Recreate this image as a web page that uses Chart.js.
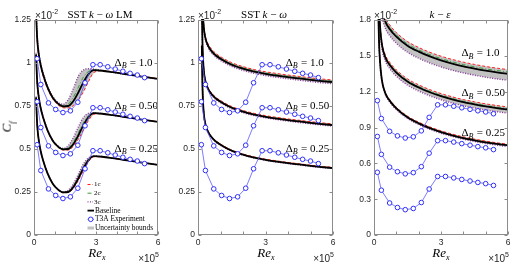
<!DOCTYPE html>
<html><head><meta charset="utf-8">
<script src="https://cdn.jsdelivr.net/npm/chart.js@4.4.1/dist/chart.umd.min.js"></script>
<style>
html,body{margin:0;padding:0;background:#fff}
body{width:526px;height:264px;overflow:hidden;position:relative;font-family:"Liberation Serif",serif}
canvas{position:absolute;top:0}
.t{position:absolute;white-space:nowrap;color:#000;line-height:1}
.c{transform:translate(-50%,-50%)}
.s{font-family:"Liberation Sans",Arial,sans-serif;font-size:10px;color:#262626;transform:translate(0,-50%)}
.r{transform:translate(-100%,-50%)}
sup.m{font-size:7px;position:relative;top:-1px;vertical-align:super}
</style></head><body>
<canvas id="c1" width="164" height="264" style="left:0"></canvas>
<canvas id="c2" width="176" height="264" style="left:164px"></canvas>
<canvas id="c3" width="186" height="264" style="left:340px"></canvas>

<div class="t c" style="left:100px;top:14px;font-size:11px">SST <i>k</i> − <i>ω</i> LM</div>
<div class="t c" style="left:264px;top:14px;font-size:11px">SST <i>k</i> − <i>ω</i></div>
<div class="t c" style="left:440px;top:14px;font-size:11px"><i>k</i> − <i>ε</i></div>

<div class="t s" style="left:35px;top:15px">×10<sup class="m">-2</sup></div>
<div class="t s" style="left:198px;top:15px">×10<sup class="m">-2</sup></div>
<div class="t s" style="left:374px;top:15px">×10<sup class="m">-2</sup></div>

<div class="t c" style="left:97px;top:254px;font-size:13px"><i>Re</i><sub style="font-size:8px"><i>x</i></sub></div>
<div class="t c" style="left:266px;top:254px;font-size:13px"><i>Re</i><sub style="font-size:8px"><i>x</i></sub></div>
<div class="t c" style="left:441px;top:254px;font-size:13px"><i>Re</i><sub style="font-size:8px"><i>x</i></sub></div>

<div class="t s r" style="left:159px;top:258px">×10<sup class="m">5</sup></div>
<div class="t s r" style="left:334px;top:258px">×10<sup class="m">5</sup></div>
<div class="t s r" style="left:509px;top:258px">×10<sup class="m">5</sup></div>

<div class="t c" style="left:8px;top:127px;font-size:13px;transform:translate(-50%,-50%) rotate(-90deg)"><i>C</i><sub style="font-size:8px"><i>f</i></sub></div>

<script>
// ---------- DATA (Re_x in 1e5, Cf in 1e-2) ----------
const expX  = [0.15, 0.33, 0.70, 1.05, 1.40, 1.76, 2.12, 2.47, 2.85, 3.20, 3.57, 3.93, 4.30, 4.65, 5.00, 5.35];
const expCf = [0.525, 0.375, 0.268, 0.230, 0.212, 0.222, 0.272, 0.385, 0.490, 0.490, 0.478, 0.465, 0.452, 0.440, 0.430, 0.415];

const deltaB   = ['0.25', '0.50', '1.0'];
const offsetsA = [0, 0.25, 0.5];   // vertical shift of each Delta_B group, panels 1-2
const offsetsB = [0, 0.3, 0.6];    // panel 3

// Panel 1: SST k-omega LM
const lmX    = [0.10, 0.15, 0.22, 0.32, 0.45, 0.65, 0.90, 1.15, 1.40, 1.65, 1.90, 2.15, 2.40, 2.65, 2.90, 3.30, 3.80, 4.40, 5.00, 5.50, 6.00];
const lmBase = [0.80, 0.65, 0.56, 0.49, 0.43, 0.36, 0.30, 0.265, 0.248, 0.25, 0.278, 0.33, 0.39, 0.437, 0.458, 0.455, 0.447, 0.436, 0.425, 0.416, 0.408];
const lm1c_025 = [0.795, 0.646, 0.556, 0.487, 0.428, 0.358, 0.299, 0.263, 0.246, 0.247, 0.27, 0.318, 0.376, 0.428, 0.455, 0.455, 0.447, 0.436, 0.425, 0.416, 0.408];
const lm2c_025 = [0.80, 0.65, 0.56, 0.49, 0.43, 0.36, 0.30, 0.265, 0.249, 0.253, 0.284, 0.338, 0.398, 0.441, 0.458, 0.455, 0.447, 0.436, 0.425, 0.416, 0.408];
const lm3c_025 = [0.805, 0.655, 0.564, 0.493, 0.432, 0.362, 0.302, 0.267, 0.251, 0.259, 0.296, 0.355, 0.415, 0.449, 0.46, 0.456, 0.447, 0.436, 0.425, 0.416, 0.408];
const lm1c_05 = [0.79, 0.642, 0.552, 0.484, 0.425, 0.356, 0.297, 0.261, 0.244, 0.244, 0.265, 0.308, 0.362, 0.418, 0.452, 0.455, 0.448, 0.437, 0.426, 0.417, 0.409];
const lm2c_05 = [0.80, 0.65, 0.56, 0.49, 0.43, 0.36, 0.30, 0.266, 0.25, 0.255, 0.29, 0.345, 0.405, 0.445, 0.459, 0.455, 0.447, 0.436, 0.425, 0.416, 0.408];
const lm3c_05 = [0.81, 0.66, 0.568, 0.495, 0.435, 0.364, 0.304, 0.269, 0.254, 0.268, 0.315, 0.38, 0.435, 0.458, 0.461, 0.456, 0.447, 0.435, 0.424, 0.415, 0.407];
const lm1c_10 = [0.78, 0.635, 0.545, 0.478, 0.42, 0.352, 0.293, 0.257, 0.24, 0.238, 0.252, 0.285, 0.335, 0.395, 0.445, 0.455, 0.449, 0.438, 0.427, 0.418, 0.410];
const lm2c_10 = [0.80, 0.65, 0.56, 0.49, 0.43, 0.36, 0.30, 0.267, 0.252, 0.26, 0.30, 0.36, 0.42, 0.452, 0.460, 0.456, 0.447, 0.436, 0.425, 0.416, 0.408];
const lm3c_10 = [0.82, 0.67, 0.575, 0.50, 0.44, 0.368, 0.307, 0.272, 0.26, 0.285, 0.35, 0.425, 0.46, 0.467, 0.464, 0.457, 0.446, 0.434, 0.423, 0.414, 0.406];

// Panel 2: SST k-omega
const swX    = [0.17, 0.20, 0.25, 0.32, 0.45, 0.70, 1.00, 1.50, 2.00, 2.50, 3.00, 3.50, 4.00, 4.50, 5.00, 5.50, 6.00];
const swBase = [1.10, 0.86, 0.72, 0.65, 0.60, 0.555, 0.525, 0.49, 0.467, 0.45, 0.437, 0.427, 0.418, 0.41, 0.402, 0.395, 0.389];
const sw1c_025 = [1.104, 0.864, 0.724, 0.654, 0.604, 0.559, 0.529, 0.494, 0.471, 0.454, 0.441, 0.431, 0.422, 0.414, 0.406, 0.399, 0.393];
const sw2c_025 = [1.102, 0.862, 0.722, 0.652, 0.602, 0.557, 0.527, 0.492, 0.469, 0.452, 0.439, 0.429, 0.42, 0.412, 0.404, 0.397, 0.391];
const sw3c_025 = [1.097, 0.857, 0.717, 0.647, 0.597, 0.552, 0.522, 0.487, 0.464, 0.447, 0.434, 0.424, 0.415, 0.407, 0.399, 0.392, 0.386];
const sw1c_05 = [1.107, 0.867, 0.727, 0.657, 0.607, 0.562, 0.532, 0.497, 0.474, 0.457, 0.444, 0.434, 0.425, 0.417, 0.409, 0.402, 0.396];
const sw2c_05 = [1.103, 0.863, 0.723, 0.653, 0.603, 0.558, 0.528, 0.493, 0.47, 0.453, 0.44, 0.43, 0.421, 0.413, 0.405, 0.398, 0.392];
const sw3c_05 = [1.094, 0.854, 0.714, 0.644, 0.594, 0.549, 0.519, 0.484, 0.461, 0.444, 0.431, 0.421, 0.412, 0.404, 0.396, 0.389, 0.383];
const sw1c_10 = [1.112, 0.872, 0.732, 0.662, 0.612, 0.567, 0.537, 0.502, 0.479, 0.462, 0.449, 0.439, 0.43, 0.422, 0.414, 0.407, 0.401];
const sw2c_10 = [1.105, 0.865, 0.725, 0.655, 0.605, 0.56, 0.53, 0.495, 0.472, 0.455, 0.442, 0.432, 0.423, 0.415, 0.407, 0.40, 0.394];
const sw3c_10 = [1.09, 0.85, 0.71, 0.64, 0.59, 0.545, 0.515, 0.48, 0.457, 0.44, 0.427, 0.417, 0.408, 0.40, 0.392, 0.385, 0.379];

// Panel 3: k-epsilon
const keX    = [0.18, 0.22, 0.27, 0.35, 0.50, 0.70, 1.00, 1.50, 2.00, 2.50, 3.00, 3.50, 4.00, 4.50, 5.00, 5.50, 6.00];
const keBase = [2.0, 1.65, 1.45, 1.30, 1.19, 1.125, 1.06, 0.985, 0.935, 0.895, 0.862, 0.835, 0.812, 0.793, 0.776, 0.762, 0.75];
const ke1c_025 = [2.01, 1.66, 1.46, 1.31, 1.20, 1.135, 1.07, 0.995, 0.945, 0.905, 0.872, 0.845, 0.822, 0.803, 0.786, 0.772, 0.76];
const ke2c_025 = [2.004, 1.654, 1.454, 1.304, 1.194, 1.129, 1.064, 0.989, 0.939, 0.899, 0.866, 0.839, 0.816, 0.797, 0.78, 0.766, 0.754];
const ke3c_025 = [1.99, 1.64, 1.44, 1.29, 1.18, 1.115, 1.05, 0.975, 0.925, 0.885, 0.852, 0.825, 0.802, 0.783, 0.766, 0.752, 0.74];
const ke1c_05 = [2.022, 1.672, 1.472, 1.322, 1.212, 1.147, 1.082, 1.007, 0.957, 0.917, 0.884, 0.857, 0.834, 0.815, 0.798, 0.784, 0.772];
const ke2c_05 = [2.008, 1.658, 1.458, 1.308, 1.198, 1.133, 1.068, 0.993, 0.943, 0.903, 0.87, 0.843, 0.82, 0.801, 0.784, 0.77, 0.758];
const ke3c_05 = [1.97, 1.62, 1.42, 1.27, 1.16, 1.095, 1.03, 0.955, 0.905, 0.865, 0.832, 0.805, 0.782, 0.763, 0.746, 0.732, 0.72];
const ke1c_10 = [2.035, 1.685, 1.485, 1.335, 1.225, 1.16, 1.095, 1.02, 0.97, 0.93, 0.897, 0.87, 0.847, 0.828, 0.811, 0.797, 0.785];
const ke2c_10 = [2.015, 1.665, 1.465, 1.315, 1.205, 1.14, 1.075, 1.0, 0.95, 0.91, 0.877, 0.85, 0.827, 0.808, 0.791, 0.777, 0.765];
const ke3c_10 = [1.945, 1.595, 1.395, 1.245, 1.135, 1.07, 1.005, 0.93, 0.88, 0.84, 0.807, 0.78, 0.757, 0.738, 0.721, 0.707, 0.695];

const xTicks  = [0, 3, 6];
const xMinor  = [0, 1, 2, 3, 4, 5, 6];
const yTicksA = [0, 0.25, 0.5, 0.75, 1, 1.25];
const yTicksB = [0, 0.3, 0.6, 0.9, 1.2, 1.5, 1.8];
const legendLabels = ['1c', '2c', '3c', 'Baseline', 'T3A Experiment', 'Uncertainty bounds'];

// ---------- STYLE / LAYOUT ----------
const RED = '#ff2020', GREEN = '#3f9a3f', PURPLE = '#8b3a9e', BLUE = '#2f2fff', BAND = '#c2c2c2', AXIS = '#8c8c8c';
const labelPosA = {x: 3.9, y: [0.5, 0.75, 1.0]};
const labelPosB = {x: 3.92, y: [0.85, 1.185, 1.52]};

function pts(xs, ys, off) { return xs.map((x, i) => ({x: x, y: ys[i] + off})); }
const smooth = {cubicInterpolationMode: 'monotone', tension: 0.4, pointRadius: 0, clip: 1};

function buildDatasets(xs, base, perts, offs) {
  const ds = [];
  perts.forEach((p, k) => {
    const off = offs[k];
    const [c1, c2, c3] = p;
    const hi = c1.map((v, i) => Math.max(v, c2[i], c3[i]));
    const lo = c1.map((v, i) => Math.min(v, c2[i], c3[i]));
    ds.push(Object.assign({data: pts(xs, hi, off), fill: '+1', backgroundColor: BAND, borderColor: 'rgba(0,0,0,0)', borderWidth: 0, order: 6}, smooth));
    ds.push(Object.assign({data: pts(xs, lo, off), fill: false, borderColor: 'rgba(0,0,0,0)', borderWidth: 0, order: 6}, smooth));
    ds.push(Object.assign({data: pts(xs, c1, off), borderColor: RED, borderWidth: 1, borderDash: [3, 2], fill: false, order: 4}, smooth));
    ds.push(Object.assign({data: pts(xs, c2, off), borderColor: GREEN, borderWidth: 1, borderDash: [4, 2, 1, 2], fill: false, order: 4}, smooth));
    ds.push(Object.assign({data: pts(xs, c3, off), borderColor: PURPLE, borderWidth: 1.4, borderDash: [1, 1.5], fill: false, order: 4}, smooth));
    ds.push(Object.assign({data: pts(xs, base, off), borderColor: '#000', borderWidth: 1.8, fill: false, order: 2}, smooth));
  });
  offs.forEach(off => {
    ds.push({data: pts(expX, expCf, off), borderColor: '#5a5aff', borderWidth: 0.8, tension: 0, fill: false,
      pointRadius: 2.3, pointBorderColor: BLUE, pointBorderWidth: 1, pointBackgroundColor: '#fff', order: 1, clip: 3});
  });
  return ds;
}

function drawDelta(ctx, x, y, val) {
  ctx.textBaseline = 'middle'; ctx.textAlign = 'left'; ctx.fillStyle = '#000';
  ctx.font = '11px "Liberation Serif"';
  ctx.fillText('\u0394', x, y);
  let w = ctx.measureText('\u0394').width;
  ctx.font = 'italic 8px "Liberation Serif"';
  ctx.fillText('B', x + w, y + 3);
  w += ctx.measureText('B').width;
  ctx.font = '11px "Liberation Serif"';
  ctx.fillText(' = ' + val, x + w + 0.5, y);
}

function decoPlugin(labelPos, withLegend) {
  return {
    id: 'deco',
    afterDatasetsDraw(chart) {
      const {ctx, chartArea: a, scales} = chart;
      const xs = scales.x, ys = scales.y;
      ctx.save();
      labelPos.y.forEach((yv, i) => drawDelta(ctx, xs.getPixelForValue(labelPos.x), ys.getPixelForValue(yv), deltaB[i]));
      const L = Math.round(a.left) + 0.5, R = Math.round(a.right) - 0.5, T = Math.round(a.top) + 0.5, B = Math.round(a.bottom) - 0.5;
      ctx.strokeStyle = AXIS; ctx.lineWidth = 1; ctx.setLineDash([]);
      ctx.strokeRect(L, T, R - L, B - T);
      ctx.beginPath();
      xMinor.forEach(v => {
        const px = Math.round(xs.getPixelForValue(v)) + 0.5;
        ctx.moveTo(px, B); ctx.lineTo(px, B - 3);
        ctx.moveTo(px, T); ctx.lineTo(px, T + 3);
      });
      ys.ticks.forEach(t => {
        const py = Math.round(ys.getPixelForValue(t.value)) + 0.5;
        ctx.moveTo(L, py); ctx.lineTo(L + 3, py);
        ctx.moveTo(R, py); ctx.lineTo(R - 3, py);
      });
      ctx.stroke();
      if (withLegend) {
        const x0 = a.left + 53.5, y0 = a.top + 164.5, dy = 8.7;
        ctx.textBaseline = 'middle'; ctx.textAlign = 'left'; ctx.fillStyle = '#000';
        const styles = [[RED, [3, 2], 1], [GREEN, [4, 2, 1, 2], 1], [PURPLE, [1, 1.5], 1.4]];
        styles.forEach((s, i) => {
          const y = y0 + i * dy;
          ctx.strokeStyle = s[0]; ctx.setLineDash(s[1]); ctx.lineWidth = s[2];
          ctx.beginPath(); ctx.moveTo(x0, y); ctx.lineTo(x0 + 5.5, y); ctx.stroke();
          ctx.font = '7px "Liberation Serif"';
          ctx.fillText(legendLabels[i], x0 + 6.5, y);
        });
        ctx.setLineDash([]);
        ctx.font = '7.4px "Liberation Serif"';
        let y = y0 + 3 * dy;
        ctx.strokeStyle = '#000'; ctx.lineWidth = 1.8;
        ctx.beginPath(); ctx.moveTo(x0, y); ctx.lineTo(x0 + 6.5, y); ctx.stroke();
        ctx.fillText(legendLabels[3], x0 + 7.5, y);
        y = y0 + 4 * dy;
        ctx.strokeStyle = '#5a5aff'; ctx.lineWidth = 0.8;
        ctx.beginPath(); ctx.moveTo(x0, y); ctx.lineTo(x0 + 6.5, y); ctx.stroke();
        ctx.strokeStyle = BLUE; ctx.lineWidth = 1; ctx.fillStyle = '#fff';
        ctx.beginPath(); ctx.arc(x0 + 3.2, y, 2.3, 0, Math.PI * 2); ctx.fill(); ctx.stroke();
        ctx.fillStyle = '#000';
        ctx.fillText(legendLabels[4], x0 + 7.5, y);
        y = y0 + 5 * dy;
        ctx.fillStyle = BAND; ctx.fillRect(x0, y - 1.5, 6.5, 3);
        ctx.fillStyle = '#000';
        ctx.fillText(legendLabels[5], x0 + 7.5, y);
      }
      ctx.restore();
    }
  };
}

function makeChart(id, xs, base, perts, offs, yMax, yTicks, labelPos, padRight, withLegend) {
  const tickFont = {family: '"Liberation Sans", Arial, sans-serif', size: 8.5};
  return new Chart(document.getElementById(id), {
    type: 'line',
    data: {datasets: buildDatasets(xs, base, perts, offs)},
    options: {
      responsive: false, animation: false, devicePixelRatio: 1,
      layout: {padding: {left: 0, right: padRight, top: 20, bottom: 0}},
      plugins: {legend: {display: false}, tooltip: {enabled: false}},
      scales: {
        x: {type: 'linear', min: 0, max: 6,
            afterBuildTicks: s => { s.ticks = xTicks.map(v => ({value: v})); },
            ticks: {font: tickFont, color: '#262626', padding: 3, maxRotation: 0, autoSkip: false, callback: v => String(v)},
            grid: {display: false, drawTicks: false}, border: {display: false},
            afterFit: s => { s.height = 29; }},
        y: {type: 'linear', min: 0, max: yMax,
            afterBuildTicks: s => { s.ticks = yTicks.map(v => ({value: v})); },
            ticks: {font: tickFont, color: '#262626', padding: 3, autoSkip: false, callback: v => String(v)},
            grid: {display: false, drawTicks: false}, border: {display: false},
            afterFit: s => { s.width = 34; }}
      }
    },
    plugins: [decoPlugin(labelPos, withLegend)]
  });
}

makeChart('c1', lmX, lmBase, [[lm1c_025, lm2c_025, lm3c_025], [lm1c_05, lm2c_05, lm3c_05], [lm1c_10, lm2c_10, lm3c_10]],
  offsetsA, 1.25, yTicksA, labelPosA, 6, true);
makeChart('c2', swX, swBase, [[sw1c_025, sw2c_025, sw3c_025], [sw1c_05, sw2c_05, sw3c_05], [sw1c_10, sw2c_10, sw3c_10]],
  offsetsA, 1.25, yTicksA, labelPosA, 7, false);
makeChart('c3', keX, keBase, [[ke1c_025, ke2c_025, ke3c_025], [ke1c_05, ke2c_05, ke3c_05], [ke1c_10, ke2c_10, ke3c_10]],
  offsetsB, 1.8, yTicksB, labelPosB, 18, false);
</script>
</body></html>
